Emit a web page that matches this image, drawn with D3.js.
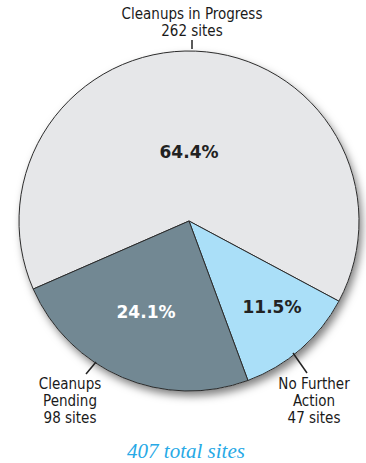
<!DOCTYPE html>
<html><head><meta charset="utf-8">
<script src="https://cdn.jsdelivr.net/npm/d3@7"></script>
<style>
html,body{margin:0;padding:0;background:#fff;}
svg{display:block;}
</style></head>
<body>
<svg id="chart" width="366" height="463"></svg>
<script>
const categories = ["Cleanups in Progress", "No Further Action", "Cleanups Pending"];
const sites = [262, 47, 98];
const percentLabels = ["64.4%", "11.5%", "24.1%"];
const outerLabels = [["Cleanups in Progress", "262 sites"], ["No Further", "Action", "47 sites"], ["Cleanups", "Pending", "98 sites"]];
const colors = ["#e6e7e9", "#aadff8", "#728893"];
const pctColors = ["#222", "#222", "#fff"];
const totalLabel = "407 total sites";

const svg = d3.select("#chart");
const cx = 189, cy = 221, r = 170;

const defs = svg.append("defs");
const f = defs.append("filter").attr("id","sh").attr("x","-20%").attr("y","-20%").attr("width","150%").attr("height","150%");
f.append("feDropShadow").attr("dx",3).attr("dy",5).attr("stdDeviation",4).attr("flood-color","#000").attr("flood-opacity",0.5);

const toRad = d => d * Math.PI / 180;
const pie = d3.pie().sort(null).value(d => d).startAngle(toRad(-113.6)).endAngle(toRad(246.4));
const arcs = pie(sites);
const arc = d3.arc().innerRadius(0).outerRadius(r);

const g = svg.append("g").attr("transform", `translate(${cx},${cy})`);
g.append("circle").attr("r", r).attr("fill", "#fff").attr("filter", "url(#sh)");
g.selectAll("path.slice").data(arcs).join("path")
  .attr("class","slice")
  .attr("d", arc)
  .attr("fill", (d,i) => colors[i])
  .attr("stroke", "#2b2b2b").attr("stroke-width", 1).attr("stroke-linejoin","round");

// percent labels
const pctPos = [[0, -63], [83, 92], [-43, 97]];
g.selectAll("text.pct").data(arcs).join("text")
  .attr("class","pct")
  .attr("x", (d,i) => pctPos[i][0]).attr("y", (d,i) => pctPos[i][1])
  .attr("text-anchor","middle")
  .attr("font-family","'DejaVu Sans', Verdana, sans-serif")
  .attr("font-weight","bold").attr("font-size", 17)
  .attr("fill", (d,i) => pctColors[i])
  .text((d,i) => percentLabels[i]);

// leader lines
const leaders = [[[192-cx, 40-cy],[192-cx, 49-cy]], [[293-cx, 353-cy],[307-cx, 373-cy]], [[96-cx, 362-cy],[86-cx, 374-cy]]];
leaders.forEach(l => {
  g.append("line").attr("x1", l[0][0]).attr("y1", l[0][1]).attr("x2", l[1][0]).attr("y2", l[1][1])
    .attr("stroke","#222").attr("stroke-width",1.5);
});

const labelPos = [[192, 19], [314, 389], [70, 389]];
outerLabels.forEach((lines, i) => {
  const t = svg.append("text")
    .attr("text-anchor","middle")
    .attr("font-family","'DejaVu Sans Condensed', 'DejaVu Sans', sans-serif")
    .attr("font-stretch","condensed")
    .attr("font-size", 15)
    .attr("fill","#1a1a1a");
  lines.forEach((s, j) => {
    t.append("tspan").attr("x", labelPos[i][0]).attr("y", labelPos[i][1] + j * 17).text(s);
  });
});

svg.append("text")
  .attr("x", 186).attr("y", 458)
  .attr("text-anchor","middle")
  .attr("font-family","'Liberation Serif', 'Times New Roman', serif")
  .attr("font-style","italic")
  .attr("font-size", 21)
  .attr("fill","#27a9e6")
  .text(totalLabel);
</script>
</body></html>
